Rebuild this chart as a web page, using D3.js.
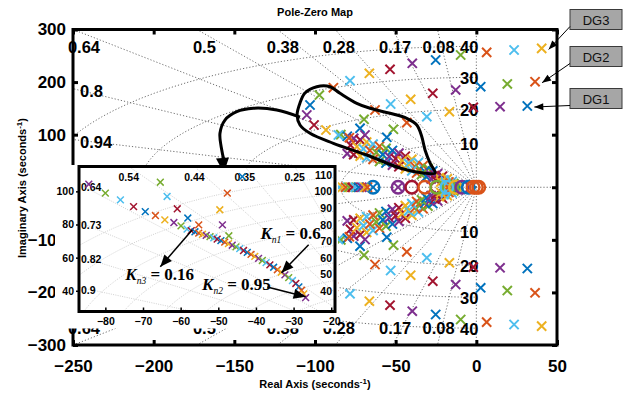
<!DOCTYPE html>
<html>
<head>
<meta charset="utf-8">
<script src="https://cdn.jsdelivr.net/npm/d3@7"></script>
<style>
  body { margin: 0; background: #fff; }
  svg { font-family: 'Liberation Sans', Arial, sans-serif; }
</style>
</head>
<body>
<div id="chart"></div>
<script>
// ---- main axes
const xTicksMain = [-250, -200, -150, -100, -50, 0, 50]
const yTicksMain = [300, 200, 100, 0, -100, -200, -300]
const dampingTop = [0.08, 0.17, 0.28, 0.38, 0.5, 0.64]
const dampingLeft = [0.8, 0.94]
const wnLabels = ['10', '20', '30', '40']
const wnRadius = [84, 148, 209, 268]

// colour cycles (systems) as they appear along the loci
const mainCycle = ['#EDB120', '#4DBEEE', '#D95319', '#77AC30', '#0072BD', '#7E2F8E', '#A2142F']
const insetCycle = ['#0072BD', '#D95319', '#EDB120', '#7E2F8E', '#77AC30', '#4DBEEE', '#A2142F']
const sysColor = { B: '#0072BD', O: '#D95319', Y: '#EDB120', P: '#7E2F8E', G: '#77AC30', L: '#4DBEEE', R: '#A2142F' }

// upper-half pole loci (real, imag); conjugates are mirrored
const dg3Locus = [[40.5, 264], [23.4, 261], [6.4, 256.5], [-9.7, 251.5], [-25.2, 242], [-39.7, 235.7],
  [-53.5, 224.3], [-66.3, 216.7], [-78.3, 202.6], [-88.6, 189.3], [-97.3, 175.4], [-103.1, 156.4],
  [-105.1, 137.4], [-100.6, 118.4], [-93.2, 108.9], [-85.5, 99.4], [-78.7, 94.2]]
const dg2Locus = [[36.4, 200.7], [19.2, 196.4], [2.7, 191.2], [-12.8, 185], [-27, 178.7], [-40.7, 167.3],
  [-53.1, 158.3], [-62.8, 146.9], [-69.6, 129.2], [-72.1, 112.1], [-69, 99.4]]
const dg1Locus = [[31.6, 154.5], [14.7, 153.2], [-1.9, 152], [-16.7, 143.7], [-30.7, 134.2],
  [-43.1, 122.8], [-51.4, 110.2], [-55.5, 95]]
const locusStart = [0, 2, 4]

// dense band where the three loci merge
const bandTop = [[-84, 100], [-80, 97], [-76, 93], [-72, 90], [-68, 86], [-64, 82], [-60, 78], [-56, 74],
  [-52, 70], [-48, 65], [-44, 59], [-40, 53], [-36, 47], [-33, 41], [-30, 36], [-27, 31], [-24, 26],
  [-21, 21], [-18, 16], [-15, 11]]
const bandMid = [[-78, 80], [-74, 77], [-70, 73], [-66, 70], [-62, 66], [-58, 62], [-54, 58], [-50, 54],
  [-46, 50], [-42, 45], [-38, 39], [-35, 34], [-32, 30], [-29, 26], [-26, 22], [-23, 18], [-20, 14],
  [-17, 10], [-14, 7], [-11, 4]]
const bandLow = [[-80, 64], [-76, 62], [-72, 59], [-68, 56], [-64, 53], [-60, 49], [-56, 46], [-52, 42],
  [-48, 39], [-44, 35], [-40, 31], [-37, 27], [-34, 24], [-31, 20], [-28, 16], [-25, 13], [-22, 10],
  [-19, 7], [-16, 5], [-13, 3]]

// real-axis poles and zeros
const realPoleRe = [-85, -83, -81, -79, -77, -75, -73, -71, -69, -67.5, -64, -48.5]
const realPoleSys = 'LYOGRLBPYOBP'
const zeroRe = [-64, -48.5, -40, -32, -24.5, -18.3, -13, -9, -5, -2, 0, 1.5]
const zeroSys = 'BPROGLYPBOOO'

// ---- inset
const xTicksInset = [-80, -70, -60, -50, -40, -30, -20]
const yTicksInset = [100, 80, 60, 40]
const dampingInsetTop = [0.25, 0.35, 0.44, 0.54]
const dampingInsetLeft = [0.64, 0.73, 0.82, 0.9]
const wnInset = [110, 100, 90, 80, 70, 60, 50, 40]
const insetCurveA = [[-84.4, 104.3], [-80, 98.9], [-76, 94.9], [-72.5, 90.8], [-69.4, 87.8], [-66.7, 85.4],
  [-64.2, 82.8], [-61.8, 81.2], [-59.9, 79.2]]
const insetCurveB = [[-65.4, 105.5], [-63.6, 96.9], [-60.9, 89.5], [-58.1, 83.9], [-55.2, 79.8]]
const insetCurveC = [[-43.6, 108.9], [-47.6, 98.9], [-49.6, 88.9], [-48.9, 79.8], [-47.2, 73.2]]
const insetLine = [[-58.3, 77.2], [-57.2, 76.3], [-56.2, 75.6], [-55.2, 74.8], [-54.2, 74.1], [-53.2, 73.4],
  [-52.2, 72.7], [-51.2, 72], [-50.3, 71.2], [-49.3, 70.3], [-48.3, 69.4], [-47.3, 68.5], [-46.3, 67.5],
  [-45.3, 66.5], [-44.3, 65.4], [-43.3, 64.3], [-42.3, 63.2], [-41.3, 62], [-40.3, 60.8], [-39.3, 59.6],
  [-38.3, 58.3], [-37.3, 57], [-36.3, 55.6], [-35.3, 54.2], [-34.3, 52.7], [-33.3, 51.2], [-32.3, 49.6],
  [-31.3, 47.9], [-30.3, 46.2], [-29.4, 44.4], [-28.6, 42.4], [-27.9, 40.3], [-27.3, 38.1], [-26.8, 35.9]]
const insetStart = [3, 4, 0, 5]

// annotation outlines (main data units)
const loopOutline = [[-106.2, 179.3], [-98.9, 191.2], [-90.7, 191.2], [-84.5, 178.7], [-74.1, 159.7],
  [-65.9, 150.2], [-53.5, 140.6], [-43.1, 131.1], [-36.9, 118.4], [-33.8, 96.1], [-31.8, 70.8],
  [-28.7, 46.1], [-25.6, 27.1], [-33, 27.1], [-47.3, 36.6], [-67.9, 61.3], [-88.6, 83.6],
  [-103.1, 102.6], [-109.3, 118.4], [-111.1, 137.4], [-109.3, 160.2]]
const loopTail = [[-109.3, 133.4], [-123.7, 146.9], [-138.2, 150.2], [-148.5, 143.7], [-155.8, 127.8],
  [-158.9, 102.6], [-157.8, 70.8], [-156.5, 52]]
const gainNotes = [
  { sub: 'n1', val: '0.6', at: [-38.8, 71.4], from: [-26, 67.8], to: [-33.2, 50.9] },
  { sub: 'n3', val: '0.16', at: [-74.7, 46.7], from: [-56.9, 76.8], to: [-65.4, 54.5] },
  { sub: 'n2', val: '0.95', at: [-54.3, 40.7], from: [-37, 42.3], to: [-26.8, 36.4] }
]
const dgNames = ['DG3', 'DG2', 'DG1']

const width = 641
const height = 397

const mx = d3.scaleLinear().domain([-250, 50]).range([73, 557])
const my = d3.scaleLinear().domain([-300, 300]).range([345, 29.5])
const ix = d3.scaleLinear().domain([-87, -19]).range([79, 335])
const iy = d3.scaleLinear().domain([27.5, 115]).range([311.5, 166.5])

const svg = d3.select('#chart').append('svg')
  .attr('width', width).attr('height', height)

const defs = svg.append('defs')
defs.append('clipPath').attr('id', 'clipMain').append('rect')
  .attr('x', mx(-250)).attr('y', my(300)).attr('width', mx(50) - mx(-250)).attr('height', my(-300) - my(300))
defs.append('clipPath').attr('id', 'clipInset').append('rect')
  .attr('x', ix(-87)).attr('y', iy(115)).attr('width', ix(-19) - ix(-87)).attr('height', iy(27.5) - iy(115))

const cross = (s) => `M${-s},${-s}L${s},${s}M${-s},${s}L${s},${-s}`

// ---------------- main grid
const gridG = svg.append('g').attr('clip-path', 'url(#clipMain)')
  .attr('fill', 'none').attr('stroke', '#6e6e6e').attr('stroke-width', 1).attr('stroke-dasharray', '1.2,2')

dampingTop.concat(dampingLeft).forEach((z) => {
  const s = Math.sqrt(1 - z * z)
  ;[1, -1].forEach((sg) => {
    gridG.append('line')
      .attr('x1', mx(0)).attr('y1', my(0))
      .attr('x2', mx(-z * 2000)).attr('y2', my(sg * s * 2000))
  })
})
gridG.append('line').attr('x1', mx(-250)).attr('x2', mx(50)).attr('y1', my(0)).attr('y2', my(0))
gridG.append('line').attr('x1', mx(0)).attr('x2', mx(0)).attr('y1', my(300)).attr('y2', my(-300))

const arc = d3.line().x((d) => mx(d[0])).y((d) => my(d[1]))
wnRadius.forEach((r) => {
  const pts = d3.range(0, 181, 3).map((a) => {
    const t = ((90 + a) * Math.PI) / 180
    return [r * Math.cos(t), r * Math.sin(t)]
  })
  gridG.append('path').attr('d', arc(pts))
})

// grid labels
const glab = svg.append('g').style('font-size', '16.5px').style('font-weight', 'bold').attr('fill', '#000')
dampingTop.forEach((z) => {
  const re = (-z / Math.sqrt(1 - z * z)) * 292
  ;[267.5, -267.5].forEach((im) => {
    glab.append('text').attr('x', mx(re)).attr('y', my(im) + 6)
      .attr('text-anchor', 'middle').text(z)
  })
})
dampingLeft.forEach((z) => {
  const im = (250 * Math.sqrt(1 - z * z)) / z
  ;[im, -im].forEach((v) => {
    glab.append('text').attr('x', mx(-250) + 7).attr('y', my(v) + 8.5).text(z)
  })
})
wnRadius.forEach((r, i) => {
  ;[r, -r].forEach((v) => {
    glab.append('text').attr('x', mx(0) + 2).attr('y', my(v) + 7)
      .attr('text-anchor', 'end').text(wnLabels[i])
  })
})

// ---------------- main poles / zeros
const ptsG = svg.append('g').attr('clip-path', 'url(#clipMain)').attr('fill', 'none').attr('stroke-width', 2)

const drawLocus = (arr, start) => {
  arr.forEach((d, i) => {
    const c = mainCycle[(start + i) % 7]
    ;[1, -1].forEach((sg) => {
      ptsG.append('path').attr('d', cross(4.6))
        .attr('transform', `translate(${mx(d[0])},${my(sg * d[1])})`)
        .attr('stroke', c)
    })
  })
}
const bands = [bandTop, bandMid, bandLow]
const loci = [dg3Locus, dg2Locus, dg1Locus]
bands.forEach((b, k) => drawLocus(b, locusStart[k] + loci[k].length))
loci.forEach((l, k) => drawLocus(l, locusStart[k]))

ptsG.selectAll('.zero').data(zeroRe).join('circle')
  .attr('class', 'zero')
  .attr('cx', (d) => mx(d)).attr('cy', my(0)).attr('r', 6.3)
  .attr('stroke', (d, i) => sysColor[zeroSys[i]]).attr('stroke-width', 2.4)
ptsG.selectAll('.rpole').data(realPoleRe).join('path')
  .attr('class', 'rpole').attr('d', cross(4.6))
  .attr('transform', (d) => `translate(${mx(d)},${my(0)})`)
  .attr('stroke', (d, i) => sysColor[realPoleSys[i]])

// ---------------- main axes
const axG = svg.append('g')
axG.append('g').attr('transform', `translate(0,${my(-300)})`)
  .call(d3.axisBottom(mx).tickValues(xTicksMain).tickSizeInner(-5).tickSizeOuter(0).tickPadding(15))
axG.append('g').attr('transform', `translate(0,${my(300)})`)
  .call(d3.axisTop(mx).tickValues(xTicksMain).tickSizeInner(-5).tickSizeOuter(0).tickFormat(''))
axG.append('g').attr('transform', `translate(${mx(-250)},0)`)
  .call(d3.axisLeft(my).tickValues(yTicksMain).tickSizeInner(-5).tickSizeOuter(0).tickPadding(7))
axG.append('g').attr('transform', `translate(${mx(50)},0)`)
  .call(d3.axisRight(my).tickValues(yTicksMain).tickSizeInner(-5).tickSizeOuter(0).tickFormat(''))
axG.selectAll('.domain').remove()
axG.selectAll('.tick line').attr('stroke', '#000').attr('stroke-width', 3)
axG.selectAll('.tick text').attr('fill', '#000')
  .style('font-family', "'Liberation Sans', Arial, sans-serif")
  .style('font-size', '17px').style('font-weight', 'bold')
axG.append('rect')
  .attr('x', mx(-250)).attr('y', my(300)).attr('width', mx(50) - mx(-250)).attr('height', my(-300) - my(300))
  .attr('fill', 'none').attr('stroke', '#000').attr('stroke-width', 3)

svg.append('text').attr('x', 315).attr('y', 16).attr('text-anchor', 'middle')
  .style('font-size', '11px').style('font-weight', 'bold').text('Pole-Zero Map')
const xl = svg.append('text').attr('x', 315).attr('y', 388).attr('text-anchor', 'middle')
  .style('font-size', '11px').style('font-weight', 'bold')
xl.append('tspan').text('Real Axis (seconds')
xl.append('tspan').attr('dy', -4).style('font-size', '8px').text('-1')
xl.append('tspan').attr('dy', 4).text(')')
const yl = svg.append('text').attr('transform', 'translate(26,188) rotate(-90)').attr('text-anchor', 'middle')
  .style('font-size', '11px').style('font-weight', 'bold')
yl.append('tspan').text('Imaginary Axis (seconds')
yl.append('tspan').attr('dy', -4).style('font-size', '8px').text('-1')
yl.append('tspan').attr('dy', 4).text(')')

// ---------------- loop annotation with arrow
const annLine = d3.line().x((d) => mx(d[0])).y((d) => my(d[1]))
svg.append('path').attr('d', annLine.curve(d3.curveCatmullRomClosed)(loopOutline))
  .attr('fill', 'none').attr('stroke', '#000').attr('stroke-width', 3)
svg.append('path').attr('d', annLine.curve(d3.curveCatmullRom)(loopTail))
  .attr('fill', 'none').attr('stroke', '#000').attr('stroke-width', 3)

const arrowHead = (g, x1, y1, x2, y2, len, half) => {
  const a = Math.atan2(y2 - y1, x2 - x1)
  const bx = x2 - len * Math.cos(a)
  const by = y2 - len * Math.sin(a)
  const px = -Math.sin(a) * half
  const py = Math.cos(a) * half
  g.append('path').attr('d', `M${x2},${y2}L${bx + px},${by + py}L${bx - px},${by - py}Z`).attr('fill', '#000')
}
{
  const n = loopTail.length
  const p = loopTail[n - 1]
  const q = loopTail[n - 2]
  arrowHead(svg, mx(q[0]), my(q[1]), mx(p[0]), my(p[1]) + 13, 15, 6.5)
}

// ---------------- inset
const insetG = svg.append('g')
insetG.append('rect').attr('x', 55).attr('y', iy(115) - 1.5).attr('width', ix(-19) + 3 - 55)
  .attr('height', 330 - iy(115)).attr('fill', '#fff')

const igrid = insetG.append('g').attr('clip-path', 'url(#clipInset)')
  .attr('fill', 'none').attr('stroke', '#c4c4c4').attr('stroke-width', 0.8).attr('stroke-dasharray', '1,1.3')
const ixy = d3.line().x((d) => ix(d[0])).y((d) => iy(d[1]))
dampingInsetTop.concat(dampingInsetLeft).forEach((z) => {
  igrid.append('line').attr('x1', ix(0)).attr('y1', iy(0))
    .attr('x2', ix(-z * 400)).attr('y2', iy(Math.sqrt(1 - z * z) * 400))
})
wnInset.forEach((r) => {
  const pts = d3.range(0, 91, 1).map((a) => {
    const t = ((90 + a) * Math.PI) / 180
    return [r * Math.cos(t), r * Math.sin(t)]
  })
  igrid.append('path').attr('d', ixy(pts))
})

const ilab = insetG.append('g').style('font-size', '10.5px').style('font-weight', 'bold').attr('fill', '#000')
dampingInsetTop.forEach((z) => {
  ilab.append('text').attr('x', ix((-z / Math.sqrt(1 - z * z)) * 115)).attr('y', iy(115) + 14)
    .attr('text-anchor', 'middle').text(z)
})
dampingInsetLeft.forEach((z) => {
  ilab.append('text').attr('x', ix(-87) + 2).attr('y', iy((87 * Math.sqrt(1 - z * z)) / z) + 7)
    .text(z)
})
wnInset.forEach((w) => {
  ilab.append('text').attr('x', ix(-19) - 3).attr('y', iy(w) + 4)
    .attr('text-anchor', 'end').text(w)
})

const ipts = insetG.append('g').attr('clip-path', 'url(#clipInset)').attr('fill', 'none').attr('stroke-width', 1.5)
;[insetCurveA, insetCurveB, insetCurveC, insetLine].forEach((arr, k) => {
  arr.forEach((d, i) => {
    ipts.append('path').attr('d', cross(3.4))
      .attr('transform', `translate(${ix(d[0])},${iy(d[1])})`)
      .attr('stroke', insetCycle[(insetStart[k] + i) % 7])
  })
})

const iax = insetG.append('g')
iax.append('g').attr('transform', `translate(0,${iy(27.5)})`)
  .call(d3.axisBottom(ix).tickValues(xTicksInset).tickSizeInner(-4).tickSizeOuter(0).tickPadding(6))
iax.append('g').attr('transform', `translate(${ix(-87)},0)`)
  .call(d3.axisLeft(iy).tickValues(yTicksInset).tickSizeInner(3).tickSizeOuter(0).tickPadding(2))
iax.selectAll('.domain').remove()
iax.selectAll('.tick line').attr('stroke', '#000').attr('stroke-width', 1.5)
iax.selectAll('.tick text').attr('fill', '#000')
  .style('font-family', "'Liberation Sans', Arial, sans-serif")
  .style('font-size', '10.5px').style('font-weight', 'bold')
iax.append('rect').attr('x', ix(-87)).attr('y', iy(115))
  .attr('width', ix(-19) - ix(-87)).attr('height', iy(27.5) - iy(115))
  .attr('fill', 'none').attr('stroke', '#000').attr('stroke-width', 3)

// gain notes
const notes = insetG.append('g')
gainNotes.forEach((n) => {
  const t = notes.append('text').attr('x', ix(n.at[0])).attr('y', iy(n.at[1]))
    .style('font-family', "'Liberation Serif', 'Times New Roman', serif")
  t.append('tspan').style('font-style', 'italic').style('font-weight', 'bold').style('font-size', '17px').text('K')
  t.append('tspan').attr('dy', 4).style('font-style', 'italic').style('font-size', '9.5px').text(n.sub)
  t.append('tspan').attr('dy', -4).style('font-weight', 'bold').style('font-size', '17px').text(' = ' + n.val)
  const x1 = ix(n.from[0])
  const y1 = iy(n.from[1])
  const x2 = ix(n.to[0])
  const y2 = iy(n.to[1])
  notes.append('line').attr('x1', x1).attr('y1', y1).attr('x2', x2).attr('y2', y2)
    .attr('stroke', '#000').attr('stroke-width', 1.5)
  arrowHead(notes, x1, y1, x2, y2, 12, 5)
})

// ---------------- DG callouts
const dgG = svg.append('g')
const boxTop = [9.5, 46.5, 88.5]
loci.forEach((l, k) => {
  const bx = 570
  const by = boxTop[k]
  dgG.append('rect').attr('x', bx).attr('y', by).attr('width', 52).attr('height', 20)
    .attr('fill', '#a6a6a6').attr('stroke', '#3a3a3a').attr('stroke-width', 1)
  dgG.append('text').attr('x', bx + 26).attr('y', by + 15).attr('text-anchor', 'middle')
    .style('font-size', '13px').attr('fill', '#111').text(dgNames[k])
  const tx = mx(l[0][0]) + 7
  const ty = my(l[0][1]) + 1
  const sx = bx
  const sy = by + 17
  dgG.append('line').attr('x1', sx).attr('y1', sy).attr('x2', tx).attr('y2', ty)
    .attr('stroke', '#000').attr('stroke-width', 1)
  arrowHead(dgG, sx, sy, tx, ty, 9, 3.5)
})
</script>
</body>
</html>
